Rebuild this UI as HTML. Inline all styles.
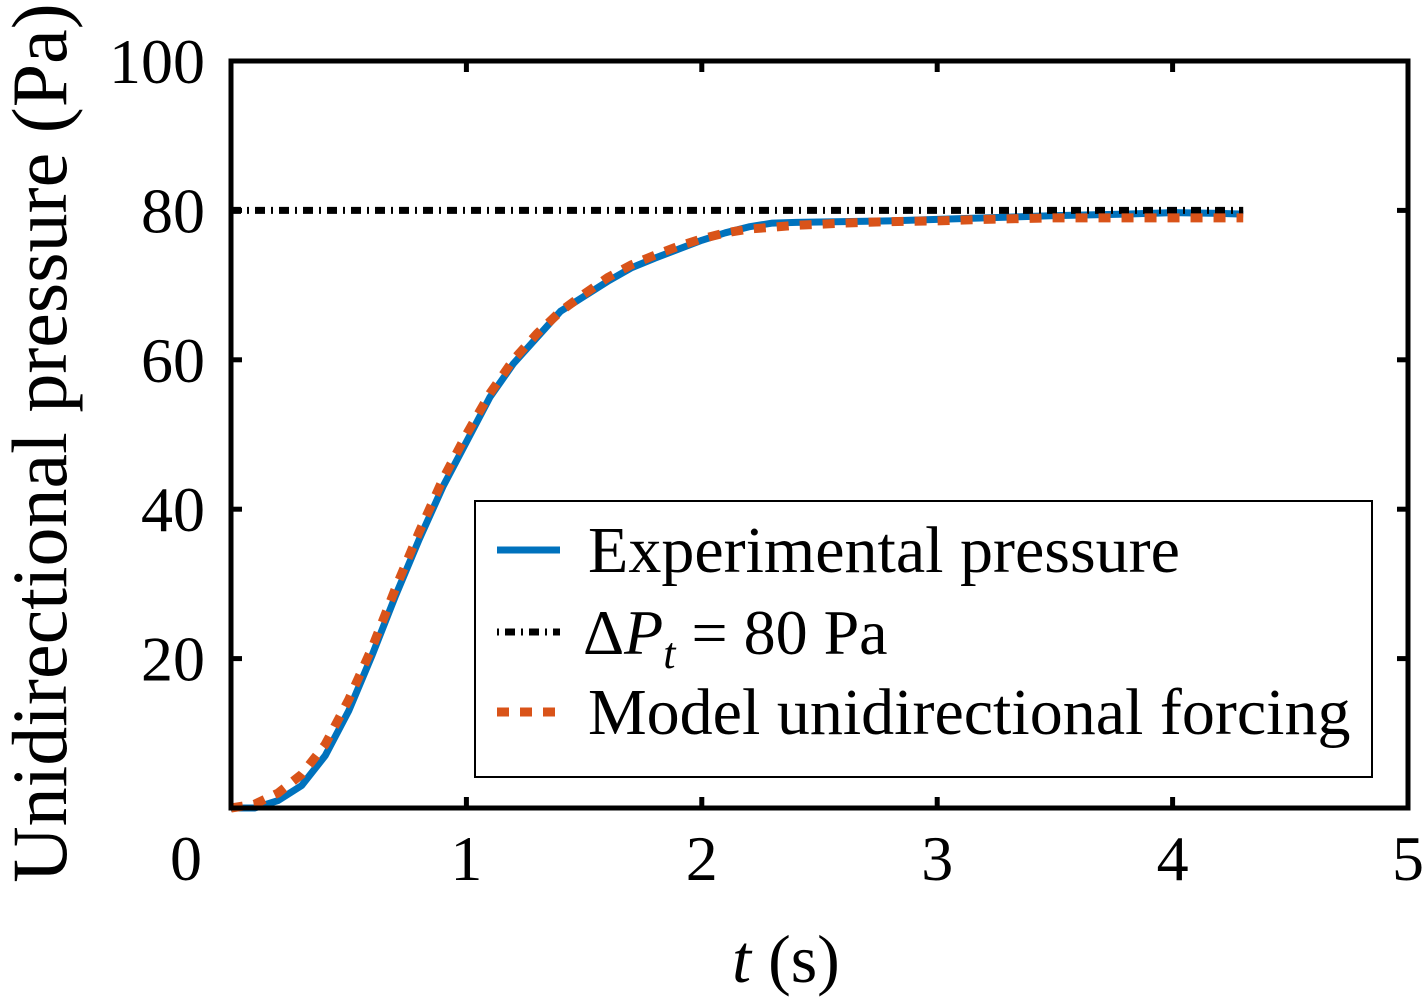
<!DOCTYPE html>
<html><head><meta charset="utf-8"><style>
body{margin:0;background:#fff;position:relative}
svg text{font-family:"Liberation Serif",serif;fill:#000}
</style></head><body>
<svg width="1423" height="1002" xmlns="http://www.w3.org/2000/svg">
<g id="plot"></g>
</svg>
<script>
const tExp=[0,0.1,0.2,0.3,0.4,0.5,0.6,0.7,0.8,0.9,1.0,1.1,1.2,1.3,1.4,1.5,1.6,1.7,1.8,1.9,2.0,2.1,2.2,2.3,2.4,2.6,2.8,3.0,3.2,3.5,3.8,4.0,4.2,4.3];
const pExp=[0,0,1,3,7,13,20.5,28.5,36,43,49,55,59.5,63,66.5,68.5,70.5,72.3,73.6,74.8,76,77,77.8,78.3,78.4,78.5,78.6,78.8,79,79.3,79.5,79.7,79.6,79.5];
const tMod=[0,0.1,0.2,0.3,0.4,0.5,0.6,0.7,0.8,0.9,1.0,1.1,1.2,1.3,1.4,1.5,1.6,1.7,1.8,1.9,2.0,2.1,2.2,2.4,2.6,2.8,3.0,3.2,3.5,3.8,4.0,4.3];
const pMod=[0,0.5,2,4.5,8.5,14.5,21.5,29.5,37,44,50,55.5,60,63.5,66.5,68.8,71,72.7,74,75.2,76.2,77,77.5,78,78.3,78.5,78.6,78.8,79,79,79,79];
const target=80, tTargetEnd=4.3;
const xTicks=[0,1,2,3,4,5], yTicks=[20,40,60,80,100];
const X=t=>231+t*235.4, Y=v=>808-v*7.47;
const ns="http://www.w3.org/2000/svg", g=document.getElementById('plot');
function mk(tag,at){const e=document.createElementNS(ns,tag);for(const k in at)e.setAttribute(k,at[k]);g.appendChild(e);return e;}
let e=mk('polyline',{points:tExp.map((t,i)=>X(t)+','+Y(pExp[i])).join(' '),fill:'none',stroke:'#0072BD','stroke-width':7,'stroke-linejoin':'round'});


e=mk('line',{x1:X(0),x2:X(tTargetEnd),y1:Y(target),y2:Y(target),stroke:'#000','stroke-width':7,'stroke-dasharray':'10,6,2,6'});


e=mk('polyline',{points:tMod.map((t,i)=>X(t)+','+Y(pMod[i])).join(' '),fill:'none',stroke:'#D95319','stroke-width':9,'stroke-dasharray':'12,11'});


e=mk('rect',{x:231,y:61,width:1177,height:747,fill:'none',stroke:'#000','stroke-width':5});


xTicks.forEach(t=>{
 mk('line',{x1:X(t),x2:X(t),y1:808,y2:797,stroke:'#000','stroke-width':5});
 mk('line',{x1:X(t),x2:X(t),y1:61,y2:72,stroke:'#000','stroke-width':5});
 const l=mk('text',{x:X(t)-(t==5?0:(t==0?45:0)),y:880,'font-size':64,'text-anchor':'middle'});l.textContent=t;
 
 
});
yTicks.forEach(v=>{
 mk('line',{x1:231,x2:242,y1:Y(v),y2:Y(v),stroke:'#000','stroke-width':5});
 mk('line',{x1:1408,x2:1397,y1:Y(v),y2:Y(v),stroke:'#000','stroke-width':5});
 const l=mk('text',{x:205,y:Y(v)+22,'font-size':64,'text-anchor':'end'});l.textContent=v;
 
 
});
</script>
<svg width="1423" height="1002" style="position:absolute;left:0;top:0" xmlns="http://www.w3.org/2000/svg">
<text x="786" y="982" font-size="68" text-anchor="middle" style="font-family:'Liberation Serif',serif"><tspan font-style="italic">t</tspan> (s)</text>
<text transform="translate(66,443) rotate(-90)" font-size="78" text-anchor="middle" style="font-family:'Liberation Serif',serif">Unidirectional pressure (Pa)</text>
<g>
<rect x="475" y="501" width="897" height="276" fill="#fff" stroke="#000" stroke-width="2"/>
<line x1="497" x2="560" y1="550" y2="550" stroke="#0072BD" stroke-width="7"/>
<text x="588" y="572" font-size="66" style="font-family:'Liberation Serif',serif">Experimental pressure</text>
<line x1="497" x2="560" y1="632" y2="632" stroke="#000" stroke-width="7" stroke-dasharray="2,6,10,6"/>
<text x="583" y="654" font-size="64" style="font-family:'Liberation Serif',serif">Δ<tspan font-style="italic">P</tspan><tspan font-style="italic" font-size="44" dy="14">t</tspan><tspan dy="-14"> = 80 Pa</tspan></text>
<line x1="497" x2="560" y1="712" y2="712" stroke="#D95319" stroke-width="9" stroke-dasharray="12,11"/>
<text x="588" y="734" font-size="66" style="font-family:'Liberation Serif',serif">Model unidirectional forcing</text>
</g>
</svg>
</body></html>
